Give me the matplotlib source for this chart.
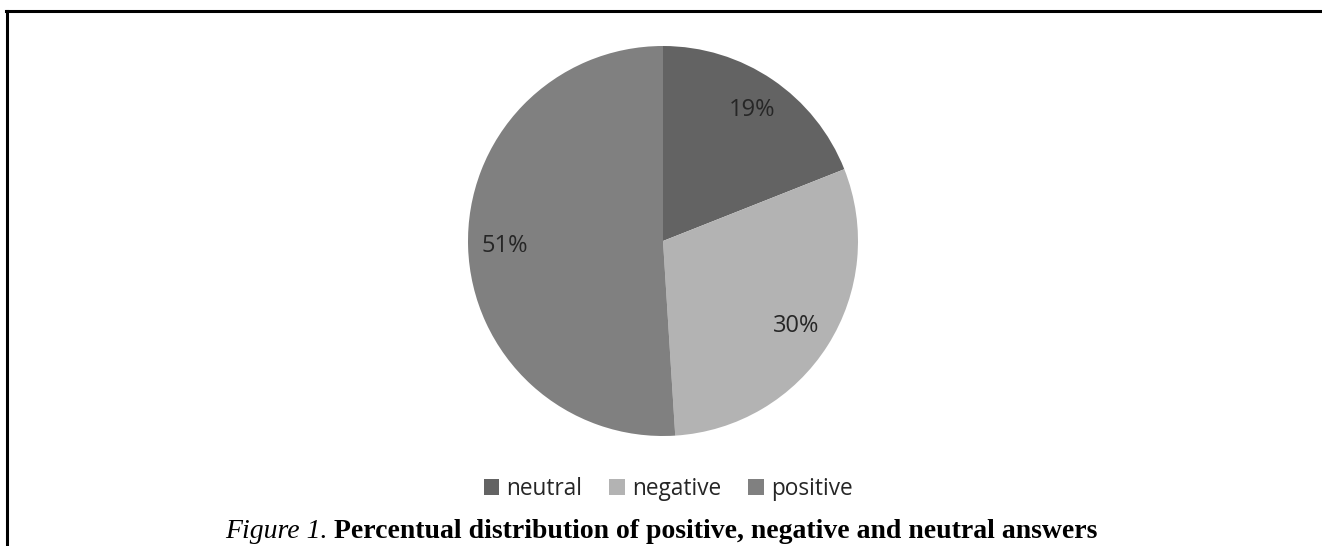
import matplotlib
matplotlib.use("Agg")
import matplotlib.pyplot as plt
from matplotlib.patches import Patch
from matplotlib.lines import Line2D

# data
kategorije = ["neutral", "negative", "positive"]
postotci = [19, 30, 51]
boje = ["#636363", "#b3b3b3", "#808080"]

W, H = 1322, 546
fig = plt.figure(figsize=(W / 100, H / 100), dpi=100)

# okvir (gornja i lijeva linija)
fig.add_artist(Line2D([6 / W, 1.0], [1 - 11 / H, 1 - 11 / H], color="black", lw=2.2))
fig.add_artist(Line2D([7 / W, 7 / W], [1 - 11 / H, 0], color="black", lw=2.2))

# pita
cx, cy, r = 663, H - 241, 195
ax = fig.add_axes([(cx - r) / W, (cy - r) / H, 2 * r / W, 2 * r / H])
wedges, _, autotexts = ax.pie(postotci, colors=boje, startangle=90, counterclock=False,
                              autopct="%d%%", pctdistance=0.81, radius=1,
                              textprops=dict(fontsize=17, color="#262626", family="Open Sans"))
ax.set_xlim(-1, 1)
ax.set_ylim(-1, 1)
ax.set_aspect("equal")

# legenda
rucke = [Patch(facecolor=b, edgecolor="none") for b in boje]
fig.legend(rucke, kategorije, loc="center", bbox_to_anchor=(668 / W, 1 - 489 / H), ncol=3,
           frameon=False, handlelength=0.7, handleheight=0.7, handletextpad=0.3,
           columnspacing=1.2, prop=dict(family="Open Sans", size=16.3), labelcolor="#262626")

# natpis
fig.canvas.draw()
rend = fig.canvas.get_renderer()
y_cap = 1 - 531 / H
t1 = fig.text(225 / W, y_cap, "Figure 1.", family="Liberation Serif", style="italic",
              fontsize=20, va="center")
bb = t1.get_window_extent(rend)
fig.text((bb.x1 + 6) / W, y_cap, "Percentual distribution of positive, negative and neutral answers",
         family="Liberation Serif", weight="bold", fontsize=20, va="center")

fig.savefig("out.png", dpi=100)
